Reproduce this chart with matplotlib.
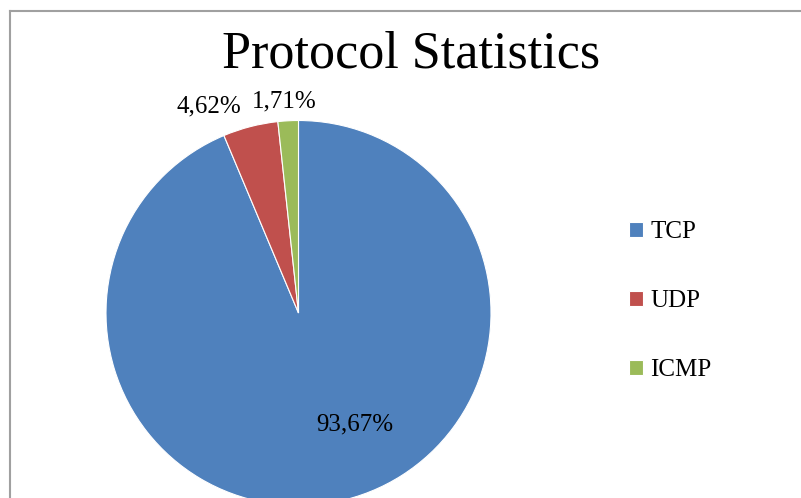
import matplotlib.pyplot as plt
from matplotlib.lines import Line2D
import numpy as np

# data
protocols = ['TCP', 'UDP', 'ICMP']
shares = [93.67, 4.62, 1.71]
colors = ['#4f81bd', '#c0504d', '#9bbb59']
# label placement (angle offset in degrees from wedge middle, radius)
label_style = [(15.5, 0.65), (9.1, 1.17), (0.7, 1.10)]

plt.rcParams['font.family'] = ['Liberation Serif', 'DejaVu Serif']

W, H, dpi = 801, 498, 100
fig = plt.figure(figsize=(W / dpi, H / dpi), dpi=dpi)

cx, cy, r = 298.5, 313, 192.5
ax = fig.add_axes([0, 0, 1, 1])
wedges, _ = ax.pie(shares, colors=colors, startangle=90, counterclock=False,
                   radius=1, wedgeprops=dict(edgecolor='white', linewidth=0.8))
ax.set_xlim(-cx / r, (W - cx) / r)
ax.set_ylim(-(H - cy) / r, cy / r)
ax.set_aspect('auto')
ax.axis('off')

for w, val, (off, dist) in zip(wedges, shares, label_style):
    mid = np.deg2rad((w.theta1 + w.theta2) / 2 + off)
    ax.text(dist * np.cos(mid), dist * np.sin(mid),
            f'{val:.2f}%'.replace('.', ','), ha='center', va='center',
            fontsize=18)

fig.text(411 / W, 1 - 55 / H, 'Protocol Statistics', ha='center',
         va='center', fontsize=37.5)

leg = ax.legend(wedges, protocols, loc='center left',
                bbox_to_anchor=(629 / W, 1 - 301 / H),
                bbox_transform=fig.transFigure, frameon=False,
                fontsize=18, handlelength=0.55, handleheight=0.55,
                handletextpad=0.3, labelspacing=1.88, borderpad=0,
                borderaxespad=0)

# chart area border (top and left edges visible)
fig.add_artist(Line2D([9.5 / W, 9.5 / W], [0, 1 - 11.5 / H],
                      transform=fig.transFigure, color='#a0a0a0', lw=1.5))
fig.add_artist(Line2D([9.5 / W, 1], [1 - 11.5 / H, 1 - 11.5 / H],
                      transform=fig.transFigure, color='#a0a0a0', lw=1.5))

fig.savefig('out.png', dpi=dpi)
